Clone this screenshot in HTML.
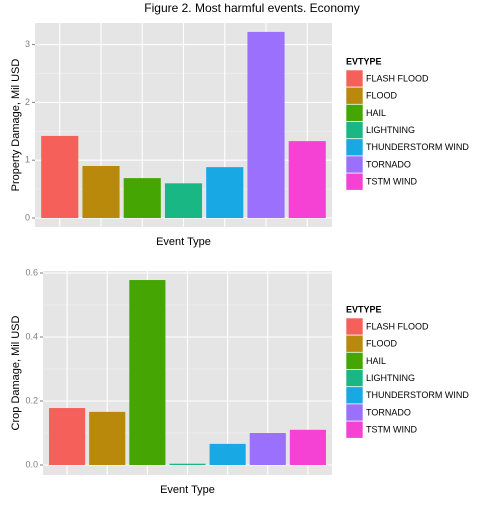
<!DOCTYPE html>
<html><head><meta charset="utf-8"><style>
body{margin:0;background:#fff;}
svg text{font-family:"Liberation Sans",Arial,sans-serif;}
</style></head><body>
<svg id="c" width="504" height="504" viewBox="0 0 504 504">
<text x="252" y="9" text-anchor="middle" font-size="12" fill="#000" dominant-baseline="middle">Figure 2. Most harmful events. Economy</text>
</svg>
<script>
const categories=["FLASH FLOOD","FLOOD","HAIL","LIGHTNING","THUNDERSTORM WIND","TORNADO","TSTM WIND"];
const colors=["#F5605B","#B8890A","#45A603","#18B784","#18A8E4","#9A70FD","#F642D4"];
const propValues=[1.42,0.90,0.69,0.60,0.88,3.22,1.33];
const cropValues=[0.178,0.166,0.578,0.004,0.066,0.10,0.11];
const propTicks=[0,1,2,3];
const propTickLabels=["0","1","2","3"];
const cropTicks=[0,0.2,0.4,0.6];
const cropTickLabels=["0.0","0.2","0.4","0.6"];
const NS="http://www.w3.org/2000/svg";
const svg=document.getElementById('c');
function mk(t,a,p){const e=document.createElementNS(NS,t);for(const k in a)e.setAttribute(k,a[k]);(p||svg).appendChild(e);return e;}
function panel(cfg){
  const g=mk('g',{});
  
  
  const {x0,x1,y0,y1,zeroY,ppu}=cfg;
  const n=categories.length, step=(x1-x0)/(n-1+1.2);
  const xs=i=>x0+step*(0.6+i);
  const ys=v=>zeroY-v*ppu;
  const bg=mk('rect',{x:x0,y:y0,width:x1-x0,height:y1-y0,fill:'#E5E5E5'},g);
  
  
  for(let i=0;i<cfg.ticks.length;i++){
    const t=cfg.ticks[i]+(cfg.ticks[1]-cfg.ticks[0])/2;
    const y=ys(t); if(y>y0&&y<y1) mk('line',{x1:x0,x2:x1,y1:y,y2:y,stroke:'#F2F2F2','stroke-width':0.5},g);
  }
  for(let i=0;i<cfg.ticks.length;i++){
    const y=ys(cfg.ticks[i]);
    mk('line',{x1:x0,x2:x1,y1:y,y2:y,stroke:'#fff','stroke-width':1.1},g);
    mk('line',{x1:x0-3,x2:x0,y1:y,y2:y,stroke:'#7f7f7f','stroke-width':1},g);
    const t=mk('text',{x:x0-5,y:y,'text-anchor':'end','dominant-baseline':'middle','font-size':'9',fill:'#7f7f7f'},g);
    t.textContent=cfg.tickLabels[i];
    
    
  }
  for(let i=0;i<n;i++){
    mk('line',{x1:xs(i),x2:xs(i),y1:y0,y2:y1,stroke:'#fff','stroke-width':1.1},g);
  }
  for(let i=0;i<n;i++){
    const w=step*0.9, v=cfg.values[i];
    const r=mk('rect',{x:xs(i)-w/2,y:ys(v),width:w,height:zeroY-ys(v),fill:colors[i]},g);
    
    
  }
  const xt=mk('text',{x:(x0+x1)/2,y:y1+15,'text-anchor':'middle','dominant-baseline':'middle','font-size':'11',fill:'#000'},g);
  xt.textContent='Event Type';
  
  
  const yc=(y0+y1)/2;
  const yt=mk('text',{x:16,y:yc,'text-anchor':'middle','dominant-baseline':'middle','font-size':'11',fill:'#000',transform:`rotate(-90 16 ${yc})`},g);
  yt.textContent=cfg.ytitle;
  
  
  const lg=mk('g',{},g);
  
  
  const lt=mk('text',{x:346,y:cfg.legY-8,'font-size':'9','font-weight':'bold',fill:'#000','dominant-baseline':'middle'},lg);
  lt.textContent='EVTYPE';
  
  
  for(let i=0;i<n;i++){
    const ky=cfg.legY+i*17.2;
    const e=mk('g',{},lg);
    
    
    mk('rect',{x:346,y:ky,width:17,height:17,fill:colors[i],stroke:'#fff','stroke-width':0.6},e);
    const tx=mk('text',{x:366,y:ky+9,'font-size':'9',fill:'#000','dominant-baseline':'middle'},e);
    tx.textContent=categories[i];
  }
}
panel({name:'property-damage-panel',x0:35,x1:332,y0:23,y1:227,zeroY:218,ppu:57.8,values:propValues,ticks:propTicks,tickLabels:propTickLabels,ytitle:'Property Damage, Mil USD',legY:70});
panel({name:'crop-damage-panel',x0:43,x1:332,y0:271,y1:475,zeroY:465,ppu:320,values:cropValues,ticks:cropTicks,tickLabels:cropTickLabels,ytitle:'Crop Damage, Mil USD',legY:318});
</script>
</body></html>
